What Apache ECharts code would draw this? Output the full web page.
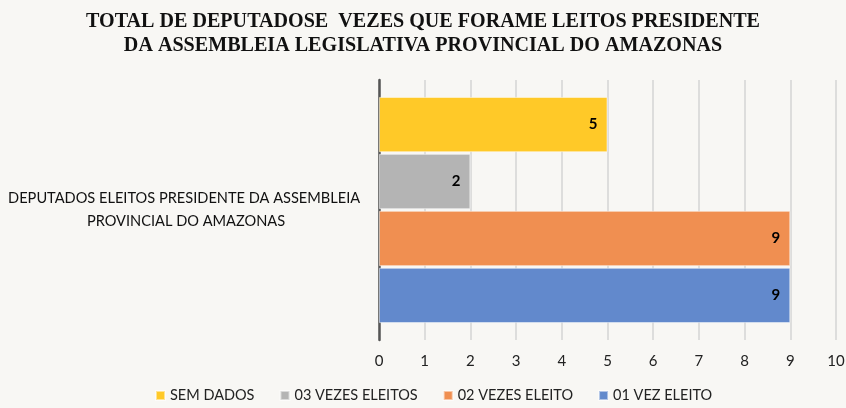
<!DOCTYPE html>
<html>
<head>
<meta charset="utf-8">
<script src="https://cdn.jsdelivr.net/npm/echarts@6/dist/echarts.min.js"></script>
<style>
  html, body { margin: 0; padding: 0; background: #f8f7f4; }
  #chart { width: 846px; height: 408px; }
</style>
</head>
<body>
<div id="chart"></div>
<script>
  // dados do gráfico
  var categories = ['DEPUTADOS ELEITOS PRESIDENTE DA ASSEMBLEIA PROVINCIAL DO AMAZONAS'];
  var seriesNames = ['SEM DADOS', '03 VEZES ELEITOS', '02 VEZES ELEITO', '01 VEZ ELEITO'];
  var semDados = [5];
  var tresVezes = [2];
  var duasVezes = [9];
  var umaVez = [9];

  var colors = ['#ffc928', '#b4b4b4', '#f08f51', '#6289cc'];
  var valores = [semDados, tresVezes, duasVezes, umaVez];

  var chart = echarts.init(document.getElementById('chart'));

  // no echarts a primeira série fica em cima
  var series = seriesNames.map(function (name, i) {
    return {
      name: name,
      type: 'bar',
      data: valores[i],
      barGap: '3%',
      barCategoryGap: '13%',
      itemStyle: {
        color: colors[i],
        borderColor: 'rgba(255,255,255,0.5)',
        borderWidth: 1
      },
      label: {
        show: true,
        position: 'insideRight',
        distance: 10,
        color: '#000',
        fontWeight: 'bold',
        fontSize: 15,
        fontFamily: 'Lato'
      }
    };
  });

  var options = {
    backgroundColor: '#f8f7f4',
    animation: false,
    color: colors,
    title: {
      text: 'TOTAL DE DEPUTADOSE  VEZES QUE FORAME LEITOS PRESIDENTE\nDA ASSEMBLEIA LEGISLATIVA PROVINCIAL DO AMAZONAS',
      left: 'center',
      top: 5,
      textStyle: {
        fontFamily: 'Liberation Serif',
        fontWeight: 'bold',
        fontSize: 20.1,
        lineHeight: 24,
        color: '#111'
      }
    },
    legend: {
      data: seriesNames,
      bottom: 0,
      left: 150,
      itemWidth: 9,
      itemHeight: 9,
      itemGap: 25,
      icon: 'rect',
      textStyle: {
        fontFamily: 'Lato',
        fontSize: 14.5,
        color: '#222'
      }
    },
    grid: {
      left: 379,
      right: 10,
      top: 80,
      bottom: 68,
      outerBoundsMode: 'none'
    },
    xAxis: {
      type: 'value',
      min: 0,
      max: 10,
      interval: 1,
      axisLine: { show: false },
      axisTick: { show: false },
      axisLabel: {
        margin: 14,
        fontFamily: 'Lato',
        fontSize: 15,
        color: '#222'
      },
      splitLine: {
        show: true,
        lineStyle: { color: '#d4d4d4', width: 1.5 }
      }
    },
    yAxis: {
      type: 'category',
      data: categories,
      axisLine: {
        show: true,
        lineStyle: { color: '#555', width: 2.5 }
      },
      axisTick: { show: false },
      axisLabel: {
        align: 'center',
        margin: 193,
        width: 372,
        overflow: 'break',
        fontFamily: 'Lato',
        fontSize: 14.6,
        lineHeight: 23,
        color: '#111'
      }
    },
    series: series
  };

  chart.setOption(options, true);
</script>
</body>
</html>
